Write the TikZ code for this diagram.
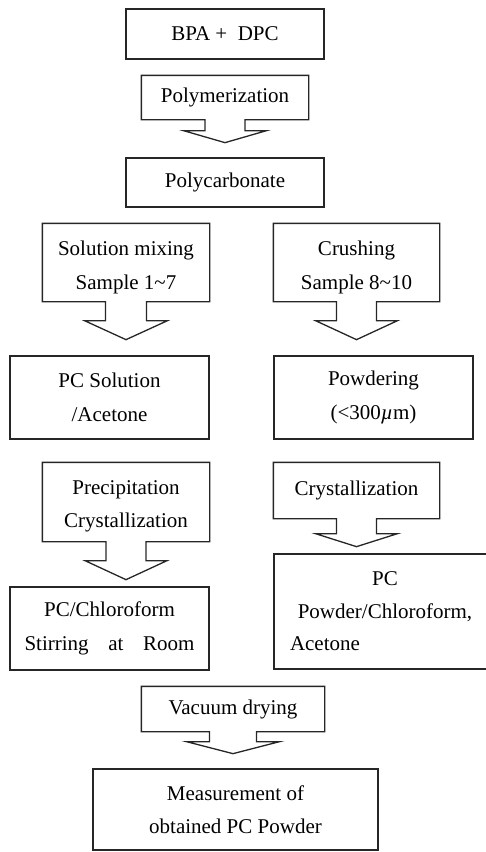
\documentclass[tikz,border=0pt]{standalone}
\usepackage{fontspec}
\setmainfont{Liberation Serif}
\usetikzlibrary{calc}

% outline of a step box merged with its down arrow
% #1 node, #2 stem half width, #3 stem length, #4 wing half width, #5 head depth
\newcommand{\flowarrow}[5]{%
  \draw[outline] (#1.south west) -- (#1.north west) -- (#1.north east) -- (#1.south east)
    -- ($(#1.south)+(#2,0)$) -- ($(#1.south)+(#2,#3)$) -- ($(#1.south)+(#4,#3)$)
    -- ($(#1.south)+(0,#3+#5)$) -- ($(#1.south)+(-#4,#3)$) -- ($(#1.south)+(-#2,#3)$)
    -- ($(#1.south)+(-#2,0)$) -- cycle;}

\begin{document}
\begin{tikzpicture}[x=1pt,y=-1pt,
  outline/.style={draw=black!85,line width=1.3pt,line join=miter},
  box/.style={rectangle,draw=black!85,line width=1.3pt,inner sep=0pt,
              align=center,font=\fontsize{21}{33.5}\selectfont},
  stepbox/.style={box,draw=none}]
\useasboundingbox (0,0) rectangle (486,852);

\node[box,minimum width=198pt,minimum height=50pt] (bpa) at (225,34) {BPA +\ \ DPC};
\node[stepbox,minimum width=166pt,minimum height=43pt] (polym) at (225,97.5) {Polymerization};
\flowarrow{polym}{20}{11}{41.5}{12}
\node[box,minimum width=198pt,minimum height=49pt] (pc) at (225,182.5) {Polycarbonate};

% left and right branches
\node[stepbox,minimum width=166pt,minimum height=77pt,text height=53.5pt,text depth=0pt] (mixing) at (126,262.5)
  {Solution mixing\\Sample 1\textasciitilde7};
\flowarrow{mixing}{20.5}{19}{41.5}{19}
\node[stepbox,minimum width=165pt,minimum height=77pt,text height=53.5pt,text depth=0pt] (crushing) at (356.5,262.5)
  {Crushing\\Sample 8\textasciitilde10};
\flowarrow{crushing}{20}{19}{41}{19}

\node[box,minimum width=199pt,minimum height=83pt] (pcsol) at (109.5,397.5) {PC Solution\\/Acetone};
\node[box,minimum width=199pt,minimum height=83pt] (powdering) at (373.5,397.5) {Powdering\\(<300{\itshape µ}m)};

\node[stepbox,minimum width=166pt,minimum height=78pt,text height=51pt,text depth=0pt] (precip) at (126,502)
  {Precipitation\\Crystallization};
\flowarrow{precip}{20}{19}{41}{19}
\node[stepbox,minimum width=165pt,minimum height=55pt] (cryst) at (356.5,490.5) {Crystallization};
\flowarrow{cryst}{20}{15}{41}{13}

\node[box,minimum width=199pt,minimum height=83pt] (pcchl) at (109.5,628.5)
  {PC/Chloroform\\\makebox[170pt][s]{Stirring\hfill at\hfill Room}};
\node[box,minimum width=222pt,minimum height=115pt,text width=190pt,align=left,
      font=\fontsize{21}{32.5}\selectfont] (pcpowder) at (385,611.5)
  {\makebox[\linewidth]{PC}\\\makebox[\linewidth]{Powder/Chloroform,}\\Acetone};

% final steps
\node[stepbox,minimum width=182pt,minimum height=44pt] (vacuum) at (233,709) {Vacuum drying};
\flowarrow{vacuum}{23.5}{10}{46.5}{12}
\node[box,minimum width=285pt,minimum height=81pt] (measure) at (235.5,809.5) {Measurement of\\obtained PC Powder};
\end{tikzpicture}
\end{document}
